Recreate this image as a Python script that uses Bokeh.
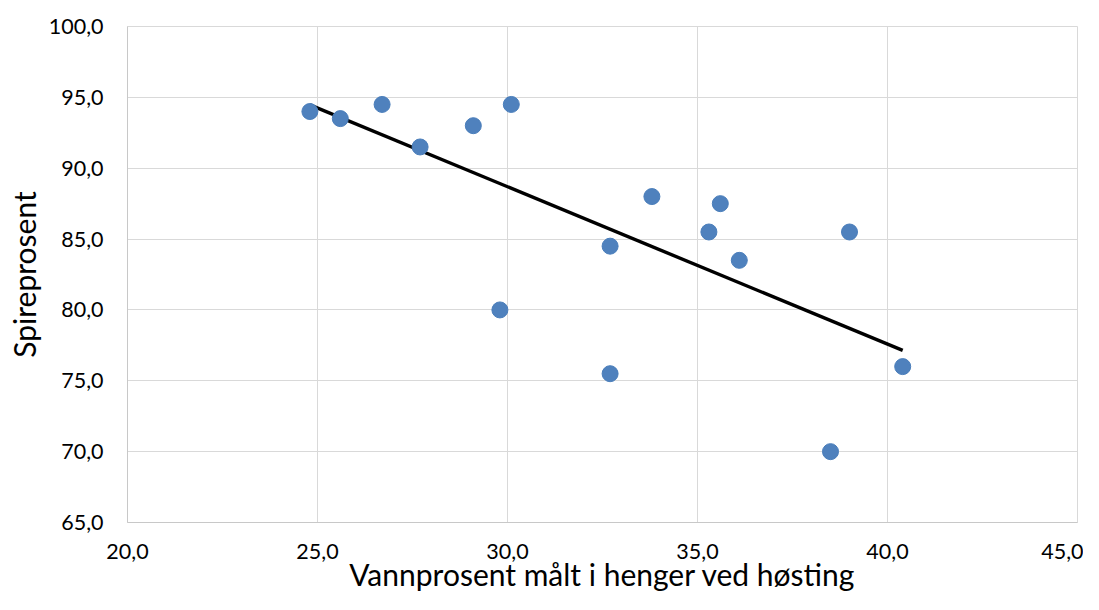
import numpy as np
from bokeh.plotting import figure
from bokeh.models import Range1d, FixedTicker
from bokeh.embed import file_html
from bokeh.resources import INLINE

# Data
vannprosent = [24.8, 25.6, 26.7, 27.7, 29.1, 30.1, 29.8, 32.7, 32.7, 33.8,
               35.3, 35.6, 36.1, 38.5, 39.0, 40.4]
spireprosent = [94.0, 93.5, 94.5, 91.5, 93.0, 94.5, 80.0, 84.5, 75.5, 88.0,
                85.5, 87.5, 83.5, 70.0, 85.5, 76.0]

x_ticks = [20.0, 25.0, 30.0, 35.0, 40.0, 45.0]
y_ticks = [65.0, 70.0, 75.0, 80.0, 85.0, 90.0, 95.0, 100.0]
x_title = "Vannprosent målt i henger ved høsting"
y_title = "Spireprosent"

FONT = "Lato"

p = figure(width=1083, height=594, output_backend="svg", toolbar_location=None,
           x_range=Range1d(20, 45), y_range=Range1d(65, 100),
           min_border_left=127, min_border_right=6,
           min_border_top=26, min_border_bottom=72)

p.outline_line_color = "#d9d9d9"
p.outline_line_width = 1

for g in (p.xgrid, p.ygrid):
    g.grid_line_color = "#d9d9d9"
    g.grid_line_width = 1
p.xgrid.ticker = FixedTicker(ticks=x_ticks)
p.ygrid.ticker = FixedTicker(ticks=y_ticks)

def fmt(v):
    return f"{v:.1f}".replace(".", ",")

p.xaxis.ticker = FixedTicker(ticks=x_ticks)
p.yaxis.ticker = FixedTicker(ticks=y_ticks)
p.xaxis.major_label_overrides = {t: fmt(t) for t in x_ticks}
p.yaxis.major_label_overrides = {t: fmt(t) for t in y_ticks}

for ax in (p.xaxis, p.yaxis):
    ax.axis_line_color = "#c8c8c8"
    ax.axis_line_width = 1
    ax.major_tick_in = 0
    ax.major_tick_out = 0
    ax.minor_tick_in = 0
    ax.minor_tick_out = 0
    ax.major_label_text_font = FONT
    ax.major_label_text_font_size = "21.5px"
    ax.major_label_text_color = "#000000"
    ax.axis_label_text_font = FONT
    ax.axis_label_text_font_size = "30px"
    ax.axis_label_text_font_style = "normal"
    ax.axis_label_text_color = "#000000"

p.xaxis.axis_label = x_title
p.yaxis.axis_label = y_title
p.xaxis.major_label_standoff = 21
p.yaxis.major_label_standoff = 24
p.xaxis.axis_label_standoff = -6
p.yaxis.axis_label_standoff = 4

# Linear trend line (least squares), spanning the data range
slope, intercept = np.polyfit(vannprosent, spireprosent, 1)
xs = [min(vannprosent), max(vannprosent)]
ys = [slope * v + intercept for v in xs]
p.line(xs, ys, line_color="black", line_width=3.4)

p.scatter(vannprosent, spireprosent, size=16, fill_color="#4f81bd",
          line_color="#4a7ebb", line_width=1)

open("out.html", "w").write(file_html(p, INLINE))
